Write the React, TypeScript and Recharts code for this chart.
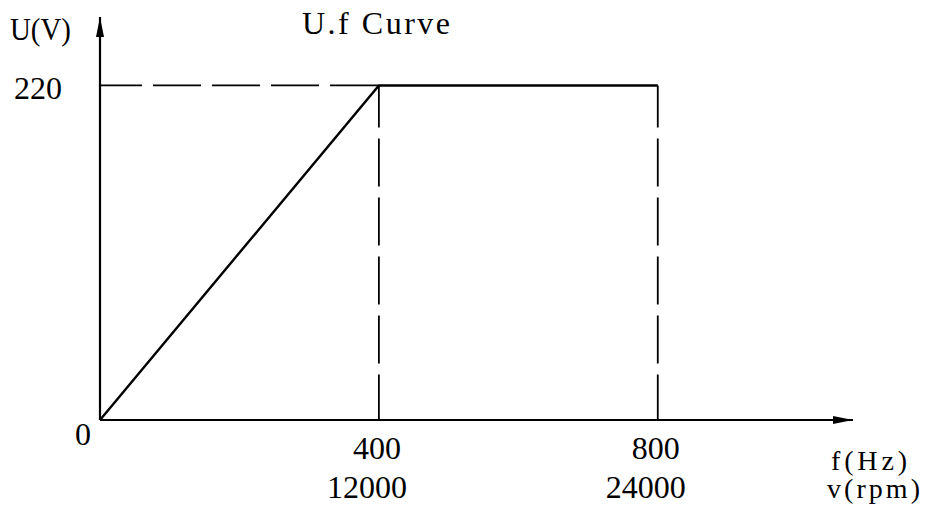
import React from 'react';
import { LineChart, Line, XAxis, YAxis, ReferenceLine, Label } from 'recharts';

// U/f curve of the spindle drive
const freqHz = [0, 400, 800];
const voltageV = [0, 220, 220];
const speedRpm = [0, 12000, 24000];
const xTicks = [400, 800];
const yTicks = [0, 220];

const data = freqHz.map((f, i) => ({ f, u: voltageV[i] }));

const FONT = '"Liberation Serif", "DejaVu Serif", serif';
const INK = '#000';
const DASH = '48 11';

const textStyle = { fontFamily: FONT, fontSize: 32, fill: INK };
const unitStyle = { fontFamily: FONT, fontSize: 28, fill: INK };

const XTick = (props: any) => {
  const { x, y, payload } = props;
  const i = freqHz.indexOf(payload.value);
  return (
    <g>
      <text x={x - 2} y={y + 31} textAnchor="middle" {...textStyle}>
        {payload.value}
      </text>
      <text x={x - 12} y={y + 70} textAnchor="middle" {...textStyle}>
        {speedRpm[i]}
      </text>
    </g>
  );
};

const YTick = (props: any) => {
  const { x, y, payload } = props;
  // the zero sits under the axis, the 220 beside its dashed line
  const isZero = payload.value === 0;
  return (
    <text
      x={isZero ? x - 1 : x - 30}
      y={isZero ? y + 25 : y + 14}
      textAnchor="end"
      {...textStyle}
    >
      {payload.value}
    </text>
  );
};

const UnitsX = (props: any) => {
  const vb = props.viewBox;
  const right = vb.x + vb.width;
  return (
    <g>
      <text x={right - 22} y={vb.y + 50} {...unitStyle} textLength={76} lengthAdjust="spacing">
        f(Hz)
      </text>
      <text x={right - 26} y={vb.y + 78} {...unitStyle} textLength={93} lengthAdjust="spacing">
        v(rpm)
      </text>
    </g>
  );
};

const UnitsY = (props: any) => {
  const vb = props.viewBox;
  return (
    <g>
      <text x={10} y={vb.y + 23} {...textStyle} textLength={61} lengthAdjust="spacingAndGlyphs">
        U(V)
      </text>
      <text x={302} y={vb.y + 17} {...textStyle} textLength={148} lengthAdjust="spacing">
        U.f Curve
      </text>
    </g>
  );
};

export default function App() {
  return (
    <div style={{ position: 'absolute', left: 0, top: 0, width: 926, height: 512, background: '#fff' }}>
      <svg width={0} height={0} style={{ position: 'absolute' }}>
        <defs>
          <marker
            id="axisArrow"
            markerUnits="userSpaceOnUse"
            markerWidth={20}
            markerHeight={8}
            refX={20}
            refY={4}
            orient="auto-start-reverse"
          >
            <path d="M0,0 L20,4 L0,8 Z" fill={INK} />
          </marker>
        </defs>
      </svg>
      <LineChart
        width={926}
        height={512}
        data={data}
        margin={{ top: 17, right: 73, bottom: 0, left: 0 }}
      >
        <XAxis
          dataKey="f"
          type="number"
          domain={[0, 1080]}
          ticks={xTicks}
          tick={<XTick />}
          tickLine={false}
          height={92}
          axisLine={{ stroke: INK, strokeWidth: 2.2, markerEnd: 'url(#axisArrow)' }}
        >
          <Label content={<UnitsX />} />
        </XAxis>
        <YAxis
          type="number"
          domain={[0, 265]}
          ticks={yTicks}
          tick={<YTick />}
          tickLine={false}
          width={100}
          axisLine={{ stroke: INK, strokeWidth: 2.2, markerStart: 'url(#axisArrow)' }}
        >
          <Label content={<UnitsY />} />
        </YAxis>
        <ReferenceLine
          segment={[
            { x: freqHz[0], y: voltageV[1] },
            { x: freqHz[1], y: voltageV[1] },
          ]}
          stroke={INK}
          strokeWidth={1.8}
          strokeDasharray={DASH}
          strokeDashoffset={6}
        />
        {xTicks.map((f) => (
          <ReferenceLine
            key={f}
            segment={[
              { x: f, y: voltageV[1] },
              { x: f, y: 0 },
            ]}
            stroke={INK}
            strokeWidth={1.8}
            strokeDasharray={DASH}
            strokeDashoffset={6}
          />
        ))}
        <Line
          type="linear"
          dataKey="u"
          stroke={INK}
          strokeWidth={2.4}
          dot={false}
          activeDot={false}
          isAnimationActive={false}
        />
      </LineChart>
    </div>
  );
}
